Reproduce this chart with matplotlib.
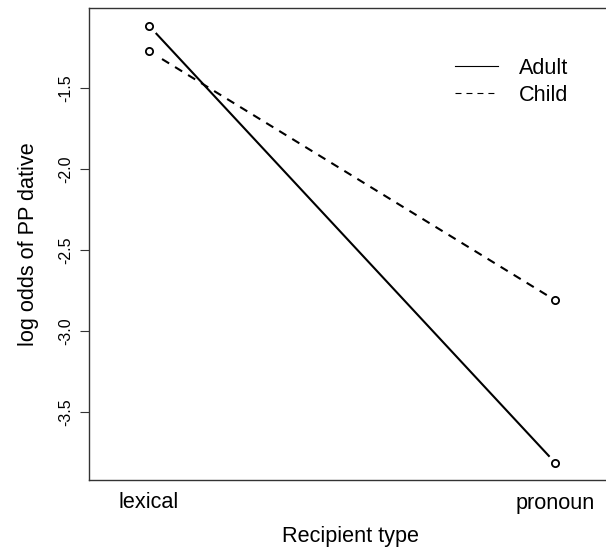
import matplotlib
matplotlib.use("Agg")
import matplotlib.pyplot as plt
from matplotlib.lines import Line2D
import numpy as np

plt.rcParams['font.family'] = ['Liberation Sans', 'DejaVu Sans']
plt.rcParams['lines.scale_dashes'] = False

categories = ["lexical", "pronoun"]
groups = ["Adult", "Child"]
adult = [-1.114, -3.809]
child = [-1.270, -2.807]
yticks = [-1.5, -2.0, -2.5, -3.0, -3.5]
xlabel = "Recipient type"
ylabel = "log odds of PP dative"

W, H = 606, 560
fig = plt.figure(figsize=(W / 100, H / 100), dpi=100)
ax = fig.add_axes([89 / W, 1 - 480 / H, (611 - 89) / W, (480 - 8.3) / H])

x = np.arange(1, len(categories) + 1)
series = {"Adult": adult, "Child": child}
for g in groups:
    y = series[g]
    if g == "Adult":
        ax.plot(x, y, color="black", lw=1.5, solid_capstyle="butt", zorder=2)
    else:
        ax.plot(x, y, color="black", lw=1.5, linestyle=(0, (6.0, 5.0)), zorder=2)
    ax.plot(x, y, linestyle="none", marker="o", markersize=12, markerfacecolor="white",
            markeredgecolor="white", zorder=3)
    ax.plot(x, y, linestyle="none", marker="o", markersize=5.2, markerfacecolor="white",
            markeredgecolor="black", markeredgewidth=1.3, zorder=4)

allv = np.array(adult + child)
r = allv.max() - allv.min()
ax.set_ylim(allv.min() - 0.04 * r, allv.max() + 0.04 * r)
ax.set_xlim(1 - 60 / 406, 2 + 56 / 406)

ax.set_yticks(yticks)
ax.set_yticklabels([f"{v:.1f}" for v in yticks], rotation=90, va="center", fontsize=11.5)
ax.tick_params(axis="y", length=6.5, width=0.8, pad=5, color="#333333")
ax.set_xticks(x)
ax.set_xticklabels(categories, fontsize=15.6)
ax.tick_params(axis="x", length=0, pad=9)
for s in ax.spines.values():
    s.set_linewidth(1.0)
    s.set_color("#333333")

ax.set_xlabel(xlabel, fontsize=15.6, labelpad=9)
ax.set_ylabel(ylabel, fontsize=15.6, labelpad=14)

handles = [Line2D([], [], color="black", lw=0.8, linestyle="-"),
           Line2D([], [], color="black", lw=0.8, linestyle=(0, (4.3, 3.6)))]
leg = ax.legend(handles, groups, loc="upper left", bbox_to_anchor=(444 / W, 1 - 47 / H),
                bbox_transform=fig.transFigure, frameon=False, fontsize=15.6,
                handlelength=2.0, handletextpad=0.95, labelspacing=0.28, borderpad=0)

fig.savefig("out.png", dpi=100)
